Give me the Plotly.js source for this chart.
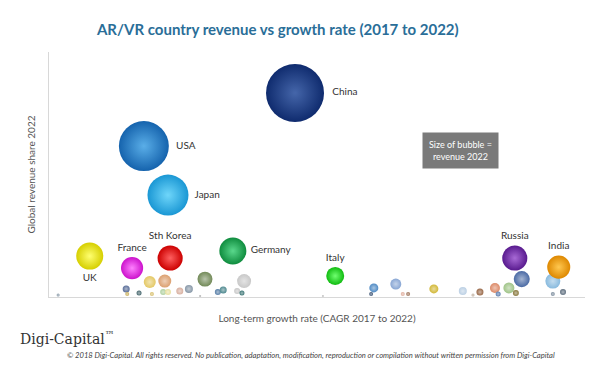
<!DOCTYPE html>
<html>
<head>
<meta charset="utf-8">
<script src="https://cdn.plot.ly/plotly-3.0.1.min.js"></script>
<style>html,body{margin:0;padding:0;background:#fff;}#chart{width:600px;height:369px;}</style>
</head>
<body>
<div id="chart"></div>
<script>
// Named countries
const countries = ["China", "USA", "Japan", "UK", "France", "Sth Korea", "Germany", "Italy", "Russia", "India"];
const growth = [45.9, 17.7, 22.2, 7.6, 15.5, 22.6, 34.3, 53.4, 86.9, 95.1];
const share = [83.3, 61.6, 41.6, 16.7, 11.8, 15.9, 18.8, 8.6, 15.9, 12.2];
const revenue = [24.0, 17.8, 12.0, 5.2, 3.5, 4.5, 5.2, 2.3, 4.5, 3.8];
const colors = ["#0f2b6e", "#1563ad", "#1a97d4", "#d6cf00", "#cc12cc", "#cc0000", "#0f8c3e", "#10bb10", "#581a8e", "#de8800"];
const highlights = ["#4566aa", "#5aaee8", "#6fd6fa", "#ffff70", "#ff80ff", "#ff6060", "#5ad88c", "#70ff70", "#a86ad6", "#ffc850"];
const labelPos = ["middle right", "middle right", "middle right", "bottom center", "top center", "top center", "middle right", "top center", "top center", "top center"];

// Unlabelled smaller countries
const otherGrowth = [1.7, 14.4, 14.6, 16.8, 18.8, 19.2, 21.6, 21.3, 22.2, 24.4, 26.1, 28.2, 29.1, 31.5, 32.5, 36.4, 35.1, 36.0, 51.1, 60.6, 60.1, 64.7, 66.0, 67.0, 71.8, 77.2, 79.1, 80.4, 83.2, 83.8, 85.8, 87.1, 88.2, 94.0, 94.0, 95.9];
const otherShare = [0.8, 3.3, 1.2, 1.6, 6.1, 1.2, 6.5, 2.0, 2.0, 2.4, 3.3, 0.4, 7.3, 2.0, 2.9, 6.5, 2.4, 1.6, 0.4, 3.7, 1.2, 5.3, 1.2, 1.2, 3.3, 2.4, 0.8, 2.0, 3.7, 1.2, 3.7, 1.6, 7.3, 6.5, 1.2, 2.0];
const otherRevenue = [0.064, 0.35, 0.114, 0.178, 1.03, 0.114, 1.2, 0.257, 0.257, 0.35, 0.456, 0.03, 1.6, 0.257, 0.35, 1.4, 0.257, 0.178, 0.03, 0.578, 0.114, 0.863, 0.114, 0.114, 0.578, 0.456, 0.064, 0.35, 0.713, 0.178, 0.863, 0.257, 1.83, 1.6, 0.114, 0.257];
const otherColors = ["#8a9aa8", "#5a6e99", "#c8b060", "#4a6a70", "#e4c864", "#d8c070", "#dca070", "#b0d0a0", "#e8e0a0", "#d8b0a0", "#8898a8", "#aaaaaa", "#728a58", "#5a80a8", "#508a90", "#c8c8c8", "#c8c8c8", "#407878", "#bbbbbb", "#4f8ac4", "#405878", "#88a6d4", "#e0b0a0", "#a07860", "#d2b838", "#bcd0e4", "#c0b0a0", "#9a6a4a", "#dc8a68", "#6080b0", "#a0c488", "#8a7a40", "#4a6aa4", "#88bade", "#8090a0", "#607080"];

const sizeRef = 2 * 24 / 3364;

function lighten(hex, f) {
  const n = parseInt(hex.slice(1), 16);
  let r = (n >> 16) & 255, g = (n >> 8) & 255, b = n & 255;
  r = Math.round(r + (255 - r) * f); g = Math.round(g + (255 - g) * f); b = Math.round(b + (255 - b) * f);
  return "rgb(" + r + "," + g + "," + b + ")";
}

const traces = [
  {
    type: "scatter", mode: "markers",
    x: otherGrowth, y: otherShare,
    marker: {
      size: otherRevenue, sizemode: "area", sizeref: sizeRef, opacity: 1,
      color: otherColors, line: {width: 0},
      gradient: {type: "radial", color: otherColors.map(c => lighten(c, 0.5))}
    },
    hoverinfo: "skip", showlegend: false, cliponaxis: false
  },
  {
    type: "scatter", mode: "markers+text",
    x: growth, y: share, text: countries, textposition: labelPos,
    textfont: {family: "Lato, 'Open Sans', sans-serif", size: 10, color: "#333"},
    marker: {
      size: revenue, sizemode: "area", sizeref: sizeRef, opacity: 1,
      color: colors, line: {width: 0},
      gradient: {type: "radial", color: highlights}
    },
    hoverinfo: "text", showlegend: false, cliponaxis: false
  }
];

const layout = {
  width: 600, height: 369,
  margin: {l: 49, r: 15, t: 52, b: 72},
  paper_bgcolor: "#fff", plot_bgcolor: "#fff",
  font: {family: "Lato, 'Open Sans', sans-serif", color: "#444"},
  title: {
    text: "AR/VR country revenue vs growth rate (2017 to 2022)",
    x: 0.463, xanchor: "center", y: 0.919, yanchor: "middle",
    font: {family: "Lato, 'Open Sans', sans-serif", size: 15, color: "#2a6e98", weight: 700}
  },
  xaxis: {
    range: [0, 100], showgrid: false, zeroline: false, showticklabels: false, ticks: "",
    showline: true, linecolor: "#d8d8d8", linewidth: 1,
    title: {text: "Long-term growth rate (CAGR 2017 to 2022)", standoff: 17, font: {size: 10, color: "#555"}}
  },
  yaxis: {
    range: [0, 100], showgrid: false, zeroline: false, showticklabels: false, ticks: "",
    showline: true, linecolor: "#d8d8d8", linewidth: 1,
    title: {text: "Global revenue share 2022", standoff: 10, font: {size: 10, color: "#555"}}
  },
  annotations: [
    {
      xref: "paper", yref: "paper", x: 0.767, y: 0.6, xanchor: "center", yanchor: "middle",
      text: "Size of bubble =<br>revenue 2022", showarrow: false,
      bgcolor: "#7a7a7a", borderpad: 6, font: {size: 9, color: "#fff"}
    },
    {
      xref: "paper", yref: "paper", x: -0.058, y: -0.168, xanchor: "left", yanchor: "middle",
      text: "Digi-Capital<sup>™</sup>", showarrow: false,
      font: {family: "'DejaVu Serif', 'Liberation Serif', serif", size: 14, color: "#333"}
    },
    {
      xref: "paper", yref: "paper", x: 0.489, y: -0.237, xanchor: "center", yanchor: "middle",
      text: "<i>© 2018 Digi-Capital. All rights reserved. No publication, adaptation, modification, reproduction or compilation without written permission from Digi-Capital</i>",
      showarrow: false, font: {size: 7.6, color: "#444"}
    }
  ]
};

Plotly.newPlot("chart", traces, layout, {displayModeBar: false, staticPlot: true});
</script>
</body>
</html>
